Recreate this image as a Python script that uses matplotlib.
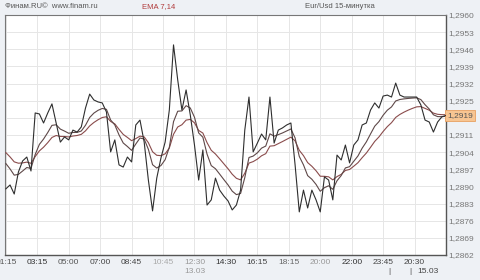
import matplotlib
matplotlib.use("Agg")
import matplotlib.pyplot as plt
import numpy as np

# ---- data ----
close = [1.28890, 1.28906, 1.28869, 1.28959, 1.29004, 1.29020, 1.28963, 1.29200, 1.29196, 1.29159,
         1.29200, 1.29237, 1.29159, 1.29081, 1.29102, 1.29090, 1.29130, 1.29122, 1.29143, 1.29220,
         1.29277, 1.29253, 1.29245, 1.29241, 1.29204, 1.29041, 1.29090, 1.28988, 1.28979, 1.29020,
         1.29000, 1.29151, 1.29171, 1.29081, 1.28926, 1.28800, 1.28934, 1.29016, 1.29081, 1.29212,
         1.29478, 1.29335, 1.29212, 1.29294, 1.29192, 1.29069, 1.28926, 1.29049, 1.28824, 1.28845,
         1.28934, 1.28885, 1.28861, 1.28841, 1.28804, 1.28824, 1.28885, 1.29130, 1.29265, 1.29041,
         1.29077, 1.29114, 1.29090, 1.29265, 1.29077, 1.29130, 1.29139, 1.29151, 1.29159, 1.28988,
         1.28796, 1.28885, 1.28812, 1.28885, 1.28845, 1.28796, 1.28939, 1.28926, 1.28845, 1.29028,
         1.29008, 1.29069, 1.28996, 1.29069, 1.29090, 1.29151, 1.29159, 1.29212, 1.29241, 1.29220,
         1.29269, 1.29273, 1.29265, 1.29322, 1.29273, 1.29265, 1.29265, 1.29265, 1.29265, 1.29233,
         1.29171, 1.29163, 1.29122, 1.29163, 1.29184, 1.29190]
ema_periods = [7, 14]
ema_start = [1.29028, 1.29061]
time_labels = ["01:15", "03:15", "05:00", "07:00", "08:45", "10:45", "12:30",
               "14:30", "16:15", "18:15", "20:00", "22:00", "23:45", "20:30"]
time_colors = ["#555555", "#333333", "#555555", "#444444", "#444444", "#aaaaaa", "#999999",
               "#333333", "#444444", "#666666", "#999999", "#333333", "#444444", "#444444"]
y_ticks = [1.2960, 1.2953, 1.2946, 1.2939, 1.2932, 1.2925, 1.2918, 1.2911,
           1.2904, 1.2897, 1.2890, 1.2883, 1.2876, 1.2869, 1.2862]
y_labels = ["1,2960", "1,2953", "1,2946", "1,2939", "1,2932", "1,2925", "", "1,2911",
            "1,2904", "1,2897", "1,2890", "1,2883", "1,2876", "1,2869", "1,2862"]
last_label = "1,2919"

def ema(values, n, start):
    a = 2.0 / (n + 1)
    out = []
    e = start
    for v in values:
        e = e + a * (v - e)
        out.append(e)
    return np.array(out)

x = np.arange(len(close))
tick_step = 7.5
tick_pos = np.arange(len(time_labels)) * tick_step

plt.rcParams['font.family'] = ['Liberation Sans', 'DejaVu Sans']
fig = plt.figure(figsize=(4.8, 2.8), dpi=100)
fig.patch.set_facecolor('#eef1f5')
ax = fig.add_axes([5/480, 25/280, 441/480, 240/280])
ax.set_facecolor('white')

ax.set_xlim(-0.2, len(close) - 1)
ax.set_ylim(y_ticks[-1], y_ticks[0])

ax.set_yticks(y_ticks)
ax.set_yticklabels(y_labels)
ax.yaxis.tick_right()
ax.set_xticks(tick_pos)
ax.set_xticklabels(time_labels)
for lbl, c in zip(ax.get_xticklabels(), time_colors):
    lbl.set_color(c)
ax.tick_params(axis='both', length=0, labelsize=6)
ax.tick_params(axis='y', pad=2, labelcolor='#777777')
ax.tick_params(axis='x', pad=3)
ax.grid(True, color='#e6e6e6', linewidth=0.7)
ax.set_axisbelow(True)

for s in ['left', 'top']:
    ax.spines[s].set_color('#777777')
    ax.spines[s].set_linewidth(0.8)
for s in ['right', 'bottom']:
    ax.spines[s].set_color('#555555')
    ax.spines[s].set_linewidth(1.0)

e7 = ema(close, ema_periods[0], ema_start[0])
e14 = ema(close, ema_periods[1], ema_start[1])
ax.plot(x, e14, color='#8a4c4c', linewidth=0.8, zorder=3)
ax.plot(x, e7, color='#5e4848', linewidth=0.8, zorder=3)
ax.plot(x, close, color='#2e2e2e', linewidth=0.8, zorder=4)

# last price box
ax.text(1.003, close[-1], last_label, transform=ax.get_yaxis_transform(),
        ha='left', va='center', fontsize=6, color='#555555', clip_on=False,
        bbox=dict(boxstyle='square,pad=0.25', facecolor='#f7c592', edgecolor='#e8a060', linewidth=0.6))

# date row
xt = ax.get_xaxis_transform()
ax.text(tick_pos[6], -0.068, "13.03", transform=xt, ha='center', va='center',
        fontsize=6, color='#999999', clip_on=False)
ax.text(tick_pos[12] + 1.4, -0.068, "|", transform=xt, ha='center', va='center',
        fontsize=6, color='#444444', clip_on=False)
ax.text(tick_pos[13] - 1.0, -0.068, "|", transform=xt, ha='center', va='center',
        fontsize=6, color='#444444', clip_on=False)
ax.text(tick_pos[13] + 3.2, -0.068, "15.03", transform=xt, ha='center', va='center',
        fontsize=6, color='#444444', clip_on=False)

# header
fig.text(5/480, 1 - 7/280, "Финам.RU©  www.finam.ru", ha='left', va='center',
         fontsize=5.5, color='#555555')
fig.text(142/480, 1 - 7/280, "EMA 7,14", ha='left', va='center',
         fontsize=5.5, color='#b03a3a')
fig.text(305/480, 1 - 7/280, "Eur/Usd 15-минутка", ha='left', va='center',
         fontsize=5.5, color='#555555')

fig.savefig('out.png', dpi=100, facecolor=fig.get_facecolor())
